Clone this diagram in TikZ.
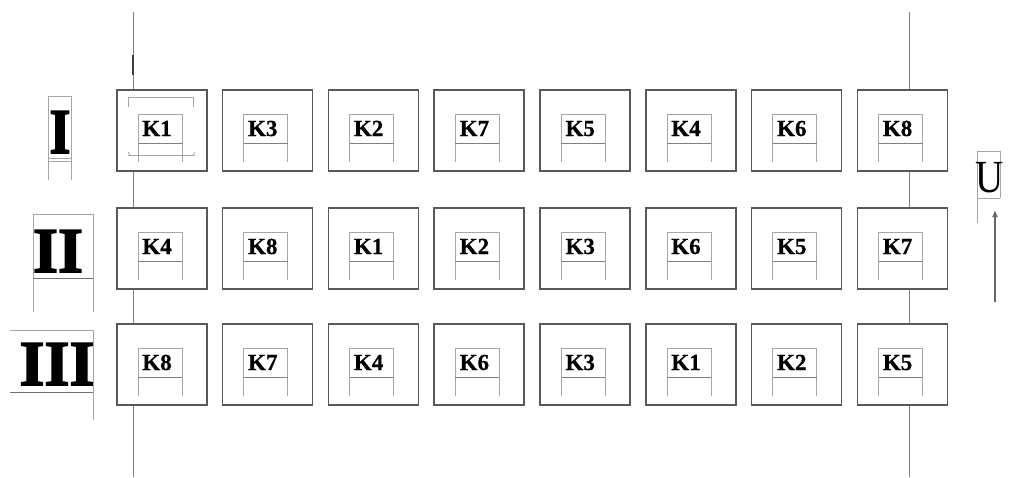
\documentclass[tikz,border=0pt]{standalone}
\usepackage{fontspec}
\setmainfont{Liberation Serif}
\newfontfamily\heavyroman{Liberation Serif Bold}[FakeBold=2.5]
\newfontfamily\heavyk{Liberation Serif Bold}[FakeBold=0.6]
\usetikzlibrary{arrows.meta}
\begin{document}
\begin{tikzpicture}[x=1pt,y=-1pt,
  cell/.style={draw=black!65, line width=1.6pt, fill=white, minimum width=90pt, minimum height=81pt, inner sep=0pt},
  faint/.style={draw=black!35, line width=0.7pt},
  guide/.style={draw=black!50, line width=1pt},
  klabel/.style={font=\fontsize{23}{23}\heavyk, inner sep=0pt, anchor=base},
  roman/.style={font=\fontsize{64}{64}\heavyroman, inner sep=0pt, anchor=base},
  arr/.style={draw=black!60, line width=1.4pt, -{Latex[length=7pt,width=6pt]}}]
\useasboundingbox (0,0) rectangle (1025,477);
% vertical guide lines
\coordinate (gl1) at (133,12);
\coordinate (gl2) at (133,477);
\coordinate (gr1) at (909,12);
\coordinate (gr2) at (909,477);
\draw[guide] (gl1) -- (gl2);
\draw[guide] (gr1) -- (gr2);
\draw[draw=black!75, line width=1.4pt] (133,55) -- (133,75);
% cells
\foreach \r/\ty/\names in {1/89/{K1,K3,K2,K7,K5,K4,K6,K8},2/207/{K4,K8,K1,K2,K3,K6,K5,K7},3/323/{K8,K7,K4,K6,K3,K1,K2,K5}}{
  \foreach \n [count=\c from 0] in \names {
    \pgfmathsetmacro{\lx}{116+105.8*\c}
    \node[cell, anchor=north west] (b\r-\c) at (\lx,\ty) {};
    \draw[faint] ([shift={(22,73)}]b\r-\c.north west) -- ([shift={(22,25)}]b\r-\c.north west)
      -- ([shift={(66,25)}]b\r-\c.north west) -- ([shift={(66,73)}]b\r-\c.north west);
    \draw[faint, draw=black!50] ([shift={(22,54)}]b\r-\c.north west) -- ([shift={(66,54)}]b\r-\c.north west);
    \node[klabel] (t\r-\c) at ([shift={(41,47)}]b\r-\c.north west) {\n};
  }
}
% extra bracket marks in K1 box
\draw[faint] ([shift={(12,18)}]b1-0.north west) -- ([shift={(12,8)}]b1-0.north west)
  -- ([shift={(77,8)}]b1-0.north west) -- ([shift={(77,18)}]b1-0.north west);
\draw[faint] ([shift={(12,66)}]b1-0.north west) -- ([shift={(79,66)}]b1-0.north west);
\draw[faint] ([shift={(12,63)}]b1-0.north west) -- ([shift={(14,66)}]b1-0.north west);
\draw[faint] ([shift={(79,63)}]b1-0.north west) -- ([shift={(77,66)}]b1-0.north west);
% roman row labels with frames
\draw[faint] (48,180) -- (48,96) -- (71,96) -- (71,180);
\draw[faint] (48,158) -- (71,158);
\draw[faint] (48,161) -- (71,161);
\node[roman, xscale=0.85] (rI) at (60,153) {I};
\draw[faint] (33,312) -- (33,214) -- (93,214) -- (93,312);
\draw[faint, draw=black!55] (33,278) -- (93,278);
\node[roman] (rII) at (58,272) {II};
\draw[faint] (10,330) -- (93,330) -- (93,420);
\draw[faint, draw=black!55] (10,392) -- (93,392);
\node[roman] (rIII) at (57,385) {III};
% U with arrow
\draw[faint] (977,223) -- (977,151) -- (1000,151) -- (1000,198);
\draw[faint] (977,198) -- (1000,198);
\node[font=\fontsize{46}{46}\selectfont, xscale=0.85, inner sep=0pt, anchor=base] (U) at (990,192) {U};
\coordinate (a0) at (995,302);
\coordinate (a1) at (995,210);
\draw[arr] (a0) -- (a1);
\end{tikzpicture}
\end{document}
